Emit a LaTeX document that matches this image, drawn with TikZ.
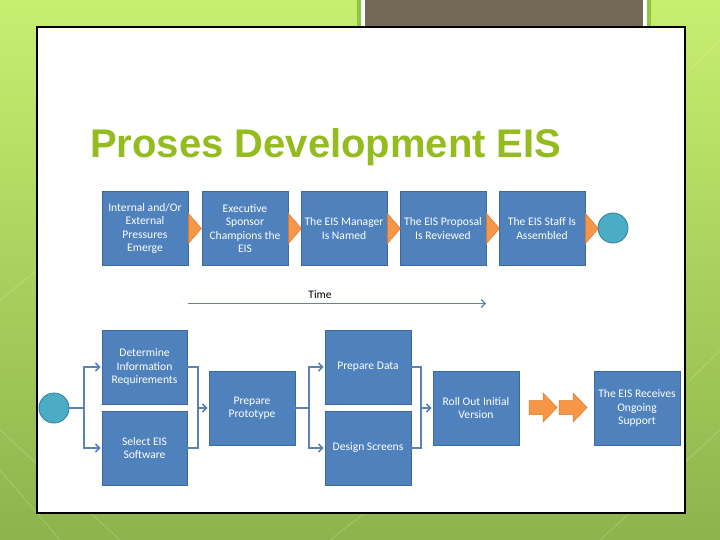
\documentclass[tikz,border=0pt]{standalone}
\usepackage{fontspec}
\setmainfont{Carlito}
\newfontfamily\titlefont{Liberation Sans}
\usetikzlibrary{arrows.meta}
\definecolor{boxblue}{HTML}{4F81BD}
\definecolor{boxedge}{HTML}{3D6A9E}
\definecolor{connblue}{HTML}{5A82B4}
\definecolor{orangefill}{HTML}{F79646}
\definecolor{orangeedge}{HTML}{D9772E}
\definecolor{circfill}{HTML}{4BACC6}
\definecolor{circedge}{HTML}{357D93}
\definecolor{titlegreen}{HTML}{94BC1F}
\definecolor{bgtop}{HTML}{C8EE70}
\definecolor{bgbot}{HTML}{8CB44C}
\definecolor{darkbox}{HTML}{726956}
\definecolor{framegreen}{HTML}{8DC63F}
\tikzset{
  stepbox/.style={draw=boxedge, line width=0.8pt, fill=boxblue, text=white,
    minimum width=86pt, minimum height=74pt, align=center, inner sep=1pt,
    font=\fontsize{11.6}{13.3}\selectfont},
  endcirc/.style={circle, draw=circedge, line width=0.8pt, fill=circfill, minimum size=30pt, inner sep=0pt},
  conn/.style={draw=connblue, line width=2.4pt},
  connarrow/.style={conn, -{Straight Barb[length=4pt,width=8pt,line width=1.6pt]}},
  chev/.style={fill=orangefill, draw=orangeedge, line width=0.5pt},
}
\begin{document}
\begin{tikzpicture}[x=1pt,y=-1pt]
\useasboundingbox (0,0) rectangle (720,540);
% background
\shade[top color=bgtop, bottom color=bgbot] (0,0) rectangle (720,540);
\begin{scope}[white, opacity=0.18, line width=1pt]
  \draw (0,430) -- (120,540);
  \draw (0,470) -- (60,540);
  \draw (330,540) -- (420,470);
  \draw (600,540) -- (720,430);
  \draw (690,380) -- (720,350);
  \draw (690,70) -- (720,40);
  \draw (0,300) -- (37,270);
\end{scope}
% top dark box
\fill[framegreen] (357,0) rectangle (651,53);
\fill[white] (361,0) rectangle (647,49);
\fill[darkbox] (365,0) rectangle (643,45);
% white panel
\draw[black, line width=1.2pt, fill=white] (37,27) rectangle (685,513);
% title
\node[anchor=base west, inner sep=0pt, text=titlegreen, font=\titlefont\bfseries\fontsize{40}{44}\selectfont] (title) at (90,158) {Proses Development EIS};

% top row
\node[stepbox] (t1) at (145,228.5) {Internal and/Or\\External\\Pressures\\Emerge};
\node[stepbox] (t2) at (245,228.5) {Executive\\Sponsor\\Champions the\\EIS};
\node[stepbox] (t3) at (344,228.5) {The EIS Manager\\Is Named};
\node[stepbox] (t4) at (443,228.5) {The EIS Proposal\\Is Reviewed};
\node[stepbox] (t5) at (542,228.5) {The EIS Staff Is\\Assembled};
\node[endcirc] (tc) at (613,228) {};
\foreach \b in {t1,t2,t3,t4,t5}{
  \fill[chev] ([yshift=15pt]\b.east) -- ([xshift=13pt]\b.east) -- ([yshift=-15pt]\b.east) -- cycle;
}
% time arrow
\node[font=\fontsize{11.5}{13}\selectfont, text=black] (time) at (320,294.5) {Time};
\coordinate (ts) at (188,303.5);
\coordinate (te) at (486,303.5);
\draw[draw=connblue, line width=1.3pt, -{Straight Barb[length=4pt,width=8pt,line width=1.2pt]}] (ts) -- (te);

% bottom section
\node[endcirc] (bc) at (54,408) {};
\node[stepbox, minimum width=85pt] (det) at (144.5,367) {Determine\\Information\\Requirements};
\node[stepbox, minimum width=85pt] (sel) at (144.5,448) {Select EIS\\Software};
\node[stepbox] (proto) at (252,408) {Prepare\\Prototype};
\node[stepbox] (pdata) at (368,367) {Prepare Data};
\node[stepbox] (dscr) at (368,448) {Design Screens};
\node[stepbox] (roll) at (476,408) {Roll Out Initial\\Version};
\node[stepbox] (supp) at (637,408) {The EIS Receives\\Ongoing\\Support};

\coordinate (s1) at (84,408);
\coordinate (m1) at (198,408);
\coordinate (s2) at (309,408);
\coordinate (m2) at (421,408);
\draw[conn] (bc.east) -- (s1);
\draw[connarrow] (s1) |- ([xshift=-1pt]det.west);
\draw[connarrow] (s1) |- ([xshift=-1pt]sel.west);
\draw[conn] (det.east) -| (m1);
\draw[conn] (sel.east) -| (m1);
\draw[connarrow] (m1) -- ([xshift=-1pt]proto.west);
\draw[conn] (proto.east) -- (s2);
\draw[connarrow] (s2) |- ([xshift=-1pt]pdata.west);
\draw[connarrow] (s2) |- ([xshift=-1pt]dscr.west);
\draw[conn] (pdata.east) -| (m2);
\draw[conn] (dscr.east) -| (m2);
\draw[connarrow] (m2) -- ([xshift=-1pt]roll.west);

% orange block arrows
\foreach \x in {529,559}{
  \fill[chev] (\x,400.5) -- (\x+14,400.5) -- (\x+14,393) -- (\x+28,407.5) -- (\x+14,422) -- (\x+14,414.5) -- (\x,414.5) -- cycle;
}
\end{tikzpicture}
\end{document}
